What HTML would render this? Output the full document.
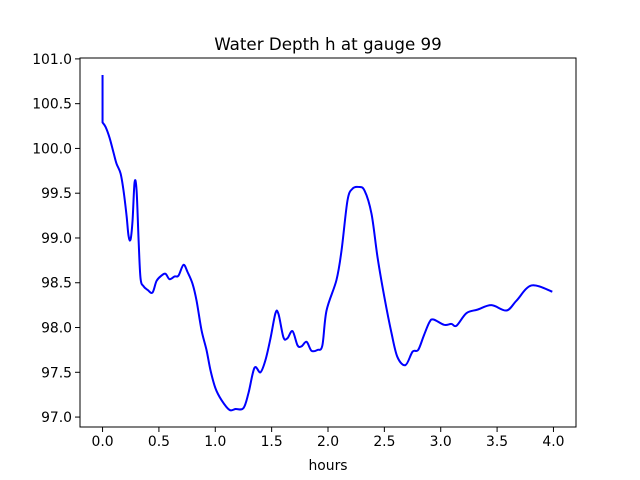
<!DOCTYPE html>
<html><head><meta charset="utf-8"><style>
body{margin:0;background:#fff;}
svg{display:block;font-family:"DejaVu Sans","Liberation Sans",sans-serif;}
</style></head><body>
<svg id="chart" width="640" height="480">
<rect width="640" height="480" fill="#fff"/>
<text x="328" y="50" font-size="16.7" text-anchor="middle">Water Depth h at gauge 99</text>
<g id="plot"></g>
<text x="328" y="470" font-size="13.9" text-anchor="middle">hours</text>
</svg>
<script>
const hours=[0,0,0.027,0.062,0.098,0.124,0.16,0.186,0.213,0.23,0.248,0.266,0.284,0.302,0.32,0.337,0.364,0.4,0.443,0.479,0.523,0.559,0.594,0.639,0.674,0.718,0.754,0.798,0.834,0.878,0.922,0.958,1.002,1.055,1.126,1.18,1.25,1.295,1.348,1.401,1.446,1.49,1.534,1.561,1.605,1.64,1.685,1.73,1.765,1.81,1.854,1.907,1.95,1.987,2.075,2.12,2.173,2.217,2.27,2.324,2.386,2.44,2.5,2.563,2.616,2.687,2.75,2.8,2.85,2.9,2.936,3.03,3.095,3.14,3.228,3.326,3.45,3.583,3.672,3.805,3.99];
const depth=[100.82,100.29,100.24,100.12,99.95,99.83,99.72,99.53,99.25,99.03,98.98,99.19,99.62,99.53,98.97,98.55,98.46,98.42,98.39,98.52,98.58,98.60,98.54,98.57,98.58,98.70,98.62,98.49,98.30,97.97,97.75,97.52,97.32,97.19,97.08,97.09,97.10,97.27,97.55,97.50,97.64,97.88,98.16,98.15,97.89,97.88,97.96,97.80,97.79,97.84,97.74,97.75,97.80,98.19,98.53,98.86,99.42,99.55,99.57,99.53,99.27,98.78,98.34,97.94,97.67,97.58,97.73,97.75,97.91,98.06,98.09,98.03,98.04,98.02,98.16,98.20,98.25,98.19,98.30,98.47,98.40];
const xTicks=[0,0.5,1,1.5,2,2.5,3,3.5,4];
const yTicks=[97,97.5,98,98.5,99,99.5,100,100.5,101];
const L=80,R=576,T=58,B=427,xmin=-0.2,xmax=4.2,ymin=96.889,ymax=101.01;
const X=v=>L+(v-xmin)/(xmax-xmin)*(R-L);
const Y=v=>B-(v-ymin)/(ymax-ymin)*(B-T);
const NS="http://www.w3.org/2000/svg";
const g=document.getElementById('plot');
function mk(t,a){const e=document.createElementNS(NS,t);for(const k in a)e.setAttribute(k,a[k]);g.appendChild(e);return e;}
// line
const pts=hours.map((h,i)=>[X(h),Y(depth[i])]);
let d="M"+pts[0][0]+","+pts[0][1]+" L"+pts[1][0]+","+pts[1][1];
for(let i=1;i<pts.length-1;i++){
 const p0=pts[Math.max(i-1,1)],p1=pts[i],p2=pts[i+1],p3=pts[Math.min(i+2,pts.length-1)];
 const c1=[p1[0]+(p2[0]-p0[0])/6,p1[1]+(p2[1]-p0[1])/6];
 const c2=[p2[0]-(p3[0]-p1[0])/6,p2[1]-(p3[1]-p1[1])/6];
 d+=" C"+c1[0]+","+c1[1]+" "+c2[0]+","+c2[1]+" "+p2[0]+","+p2[1];
}
const line=mk('path',{d:d,fill:'none',stroke:'#0000ff','stroke-width':2,'stroke-linejoin':'round'});


xTicks.forEach(t=>{
 const x=X(t);
 const tk=mk('line',{x1:x,x2:x,y1:B,y2:B+5,stroke:'#000','stroke-width':1});
 
 
 const lb=mk('text',{x:x,y:B+19,'font-size':13.9,'text-anchor':'middle'});
 lb.textContent=t.toFixed(1);
 
 
});
yTicks.forEach(t=>{
 const y=Y(t);
 const tk=mk('line',{x1:L-5,x2:L,y1:y,y2:y,stroke:'#000','stroke-width':1});
 
 
 const lb=mk('text',{x:L-8,y:y+5,'font-size':13.9,'text-anchor':'end'});
 lb.textContent=t.toFixed(1);
 
 
});
const fr=mk('rect',{x:L,y:T,width:R-L,height:B-T,fill:'none',stroke:'#000','stroke-width':1});


</script>
</body></html>
